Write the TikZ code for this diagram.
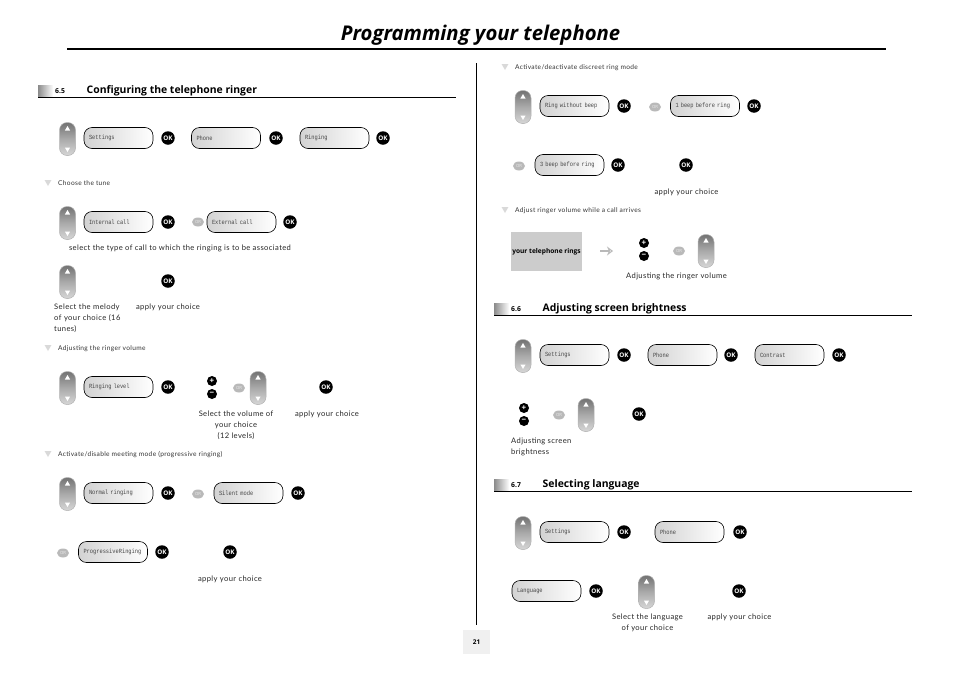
\documentclass[tikz,border=0pt]{standalone}
\usepackage{fontspec}
\setmainfont{Lato}
\newfontfamily\headfont{Open Sans}
\newfontfamily\capfont[LetterSpace=5]{Lato}
\newfontfamily\lcdfont[FakeStretch=0.85]{Liberation Mono}
\usetikzlibrary{arrows.meta,calc,positioning,shapes.geometric}
\definecolor{KeyDark}{RGB}{115,115,115}
\definecolor{KeyMid}{RGB}{170,170,170}
\definecolor{KeyLight}{RGB}{215,215,215}
\definecolor{LcdText}{RGB}{70,70,70}
\tikzset{
  okbtn/.style={circle,fill=black,text=white,inner sep=0pt,minimum size=13.5pt,font=\headfont\bfseries\fontsize{6.3}{7}\selectfont},
  orbtn/.style={ellipse,fill=gray!55,text=gray!15,inner sep=0pt,minimum width=12pt,minimum height=9pt,font=\headfont\fontsize{4.2}{5}\selectfont},
  pmbtn/.style={circle,fill=black,text=white,inner sep=0pt,minimum size=10pt,font=\headfont\bfseries\fontsize{8}{8}\selectfont},
  navkey/.style={rectangle,rounded corners=7.5pt,draw=gray!60,line width=0.5pt,top color=KeyDark,bottom color=KeyLight,middle color=KeyMid,minimum width=16pt,minimum height=33pt,inner sep=0pt},
  navtip/.style={regular polygon,regular polygon sides=3,fill=white,inner sep=0pt,minimum size=6pt},
  lcdbox/.style={rectangle,rounded corners=8pt,draw=black,line width=0.6pt,left color=gray!35,right color=white,minimum width=69pt,minimum height=21pt,text width=59pt,inner sep=0pt,align=left,text=LcdText,font=\lcdfont\fontsize{6.3}{7}\selectfont},
  stepmark/.style={regular polygon,regular polygon sides=3,shape border rotate=180,fill=gray!30,inner sep=0pt,minimum size=8pt},
  steptext/.style={anchor=west,inner sep=0pt,yshift=-0.5pt,text=black!80,font=\capfont\fontsize{6.6}{7}\selectfont},
  bodytext/.style={inner sep=0pt,yshift=-1.5pt,text=black!85,font=\capfont\fontsize{7.6}{11.3}\selectfont},
  secbar/.style={rectangle,left color=gray!90,right color=white,inner sep=0pt,minimum width=15pt,minimum height=11.5pt},
  secnum/.style={anchor=west,inner sep=0pt,font=\headfont\bfseries\fontsize{6.8}{8}\selectfont},
  sectitle/.style={anchor=west,inner sep=0pt,yshift=-2pt,font=\headfont\bfseries\fontsize{10.4}{12}\selectfont}
}
\begin{document}
\begin{tikzpicture}[x=1pt,y=-1pt]
    \useasboundingbox (0,0) rectangle (954,675);
    % Page title
    \node[inner sep=0pt,font=\headfont\bfseries\itshape\fontsize{20.3}{24}\selectfont] (pagetitle) at (480.5,35) {Programming your telephone};
    \coordinate (titleL) at (67,49);
    \coordinate (titleR) at (886,49);
    \draw[line width=2.6pt] (titleL) -- (titleR);
    % Column rule and page number
    \coordinate (colT) at (476.5,63);
    \coordinate (colB) at (476.5,625);
    \draw[line width=0.7pt] (colT) -- (colB);
    \node[fill=gray!12,minimum width=27pt,minimum height=24pt,inner sep=0pt,font=\headfont\bfseries\fontsize{6.5}{8}\selectfont] (pagenum) at (476.5,642) {21};
    % Section headings
    \foreach \secname/\x/\y/\num/\txt in {
        seca/38/91.5/6.5/Configuring the telephone ringer,
        secb/494/309.5/6.6/Adjusting screen brightness,
        secc/494/485.5/6.7/Selecting language} {
        \node[secbar,anchor=west] (\secname) at (\x,\y) {};
        \node[secnum] (\secname num) at (\x+17,\y-0.5) {\num};
        \node[sectitle] (\secname txt) at (\x+48.5,\y-2.5) {\txt};
    }
    \coordinate (seca0) at (38,97.5);  \coordinate (seca1) at (456,97.5);
    \coordinate (secb0) at (494,315.5); \coordinate (secb1) at (912,315.5);
    \coordinate (secc0) at (494,491.5); \coordinate (secc1) at (912,491.5);
    \foreach \secname in {seca,secb,secc}
        \draw[line width=0.7pt] (\secname0) -- (\secname1);
    % Step captions
    \foreach \stepname/\x/\y/\txt in {
        tune/48/182/{Choose the tune},
        volume/48/347/{Adjusting the ringer volume},
        meeting/48/453/{Activate/disable meeting mode (progressive ringing)},
        discreet/505/66/{Activate/deactivate discreet ring mode},
        arrives/505/209/{Adjust ringer volume while a call arrives}} {
        \node[stepmark] (\stepname) at (\x,\y) {};
        \node[steptext] (\stepname txt) at (\x+10,\y+1) {\txt};
    }
    % Navigator keys
    \foreach \navname/\x/\y in {
        nava/67.5/139, navb/67.5/223, navc/67.5/282, navd/67.5/388, nave/258/388, navf/67.5/494,
        navg/523/107, navh/706/251, navi/523/356, navj/586/415, navk/523/533, navl/646.5/592} {
        \node[navkey] (\navname) at (\x,\y) {};
        \node[navtip] (\navname up) at (\x,\y-10) {};
        \node[navtip,shape border rotate=180] (\navname dn) at (\x,\y+10) {};
    }
    % Display boxes
    \foreach \lcdname/\x/\y/\txt in {
        settingsa/118.5/138/Settings, phonea/226/138/Phone, ringinga/334.5/138/Ringing,
        internal/118.5/222/Internal call, external/241.5/222/External call,
        level/118.5/387/Ringing level,
        normal/118.5/493/Normal ringing, silent/248.5/493/Silent mode,
        progressive/113/552/ProgressiveRinging,
        nobeep/574.5/106/Ring without beep, onebeep/705/106/1 beep before ring,
        threebeep/569.5/165/3 beep before ring,
        settingsb/574.5/355/Settings, phoneb/682.5/355/Phone, contrast/789.5/355/Contrast,
        settingsc/574.5/532/Settings, phonec/689.5/532/Phone,
        language/546.5/591/Language} {
        \node[lcdbox] (\lcdname) at (\x,\y) {\txt};
    }
    % OK buttons
    \foreach \okname/\x/\y in {
        oka/168/138, okb/276/138, okc/383/138, okd/168/222, oke/290/222, okf/168/281,
        okg/168/387, okh/326/387, oki/168/493, okj/298/493, okk/162/552, okl/230/552,
        okm/624/106, okn/754/106, oko/618/165, okp/686/165,
        okq/624/355, okr/731/355, oks/839/355, okt/639/414,
        oku/624/532, okv/740/532, okw/596/591, okx/739/591} {
        \node[okbtn] (\okname) at (\x,\y) {OK};
    }
    % OR marks
    \foreach \orname/\x/\y in {
        ora/198/222, orb/239/388, orc/198/494, ord/63/553,
        ore/655/107, orf/519/166, org/679/251, orh/559/415} {
        \node[orbtn] (\orname) at (\x,\y) {OR};
    }
    % Plus and minus keys
    \foreach \pmname/\x/\y in {pma/212/387.5, pmb/644/249.5, pmc/524/414.5} {
        \node[pmbtn] (\pmname plus) at (\x,\y-6.5) {+};
        \node[pmbtn] (\pmname minus) at (\x,\y+6.5) {−};
    }
    % Body texts
    \node[bodytext] (typetxt) at (180,247) {select the type of call to which the ringing is to be associated};
    \node[bodytext,anchor=north west,align=left,text width=72pt] (melodytxt) at (54,302) {Select the melody\\of your choice (16\\tunes)};
    \node[bodytext] (applya) at (168,306) {apply your choice};
    \node[bodytext,anchor=north,align=center] (voltxt) at (236,409) {Select the volume of\\your choice\\(12 levels)};
    \node[bodytext] (applyb) at (327,413) {apply your choice};
    \node[bodytext] (applyc) at (230,578) {apply your choice};
    \node[bodytext] (applyd) at (686.5,191) {apply your choice};
    \node[bodytext] (ringvol) at (676.5,275) {Adjusting the ringer volume};
    \node[bodytext,anchor=north west,align=left] (brighttxt) at (511,436) {Adjusting screen\\brightness};
    \node[bodytext,anchor=north,align=center] (langtxt) at (647.5,612) {Select the language\\of your choice};
    \node[bodytext] (applye) at (739.5,616) {apply your choice};
    % Incoming call box
    \node[fill=gray!40,minimum width=71pt,minimum height=39pt,inner sep=0pt,font=\headfont\bfseries\fontsize{6.6}{8}\selectfont] (ringbox) at (546.5,251.5) {your telephone rings};
    \coordinate (ringarrowA) at (600,251);
    \coordinate (ringarrowB) at (613,251);
    \draw[-{Stealth[length=6pt,width=9pt,open]},line width=1.6pt,gray!55] (ringarrowA) -- (ringarrowB);
\end{tikzpicture}
\end{document}
